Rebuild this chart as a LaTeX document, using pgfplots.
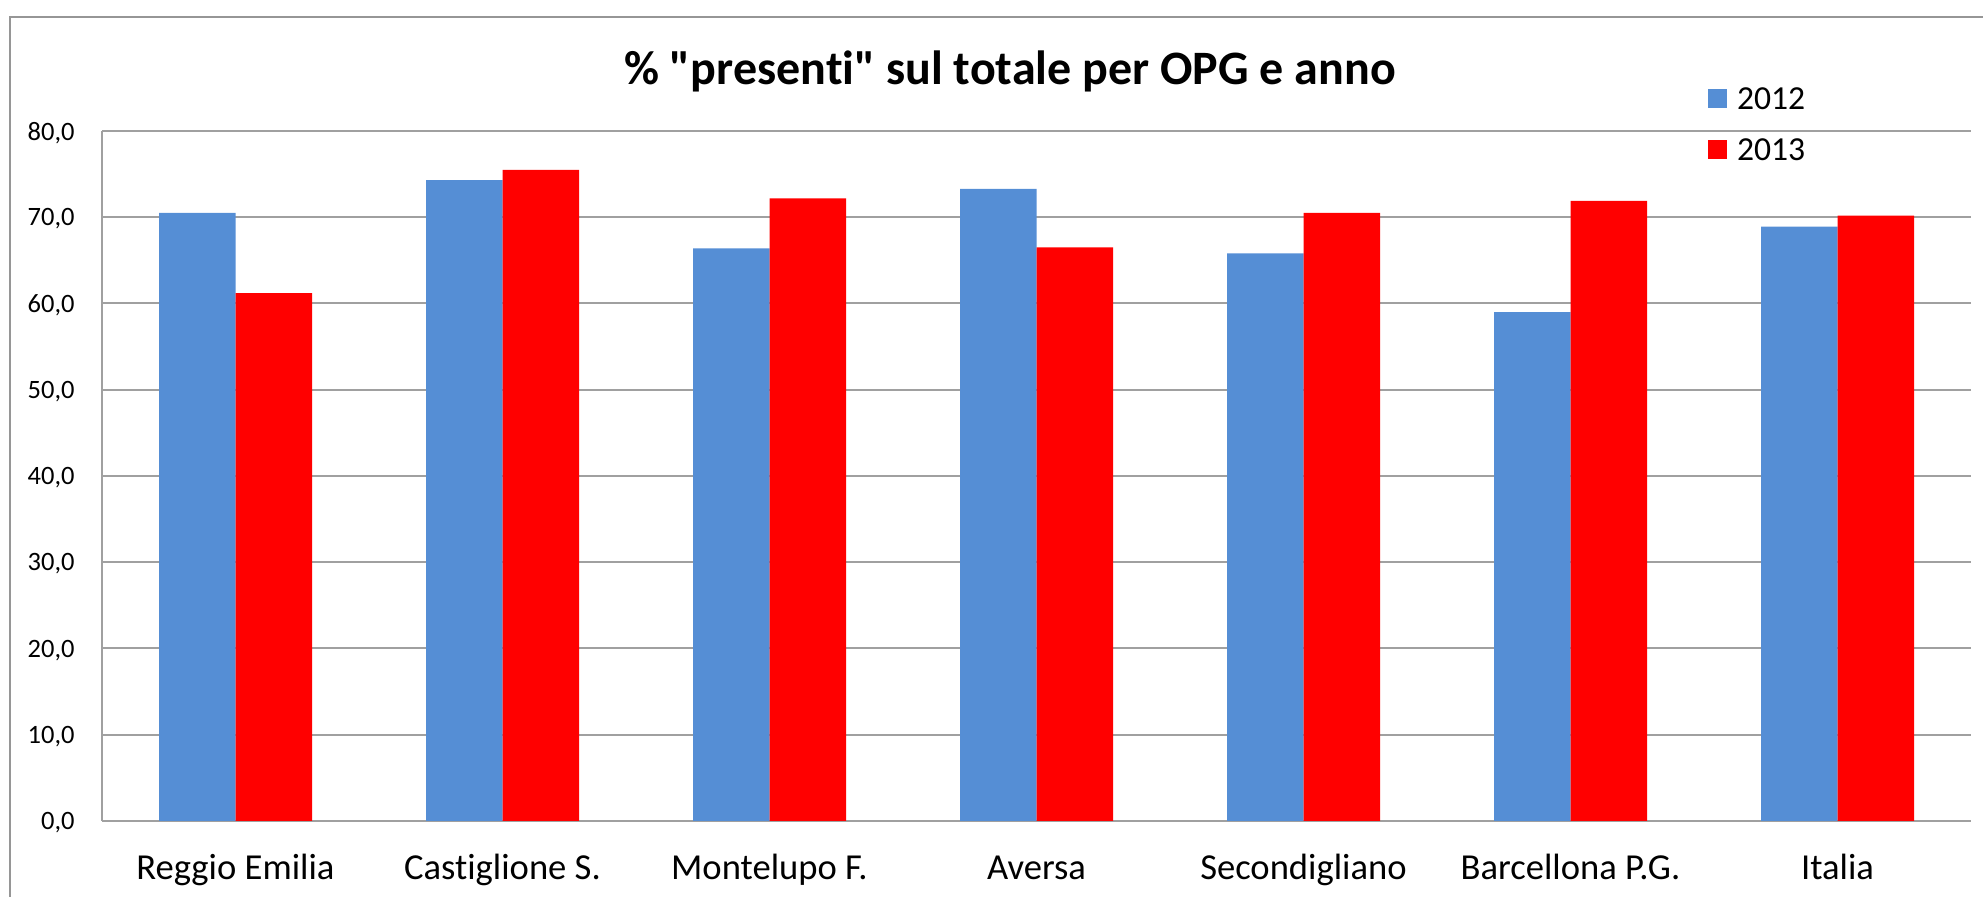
\documentclass[border=0pt]{standalone}
\usepackage{pgfplots}
\pgfplotsset{compat=1.18}
\usepackage{fontspec}
\setmainfont{Carlito}[Ligatures={TeXOff,NoCommon}]
\definecolor{bblue}{RGB}{85,142,213}
\definecolor{bred}{RGB}{255,0,0}
\definecolor{gridgray}{RGB}{160,160,160}
\definecolor{framegray}{RGB}{150,150,150}
\begin{document}
\begin{tikzpicture}
\useasboundingbox (0,0) rectangle (991.5pt,448.5pt);
\draw[framegray, line width=1pt] (5pt,0) -- (5pt,440pt) -- (991.5pt,440pt);
\node[anchor=base, inner sep=0pt, font=\fontsize{24}{28}\selectfont\bfseries] at (505pt,406pt) {\% "presenti" sul totale per OPG e anno};
\begin{axis}[
  at={(51pt,38pt)}, anchor=south west,
  width=934.5pt, height=345pt, scale only axis,
  xmin=-0.5, xmax=6.5, ymin=0, ymax=80,
  ybar=0pt, bar width=38.25pt,
  axis x line*=bottom, axis y line*=left,
  axis line style={gridgray, line width=1pt},
  xtick={0,...,6},
  xticklabels={Reggio Emilia, Castiglione S., Montelupo F., Aversa, Secondigliano, Barcellona P.G., Italia},
  ytick={0,10,...,80},
  major tick length=0pt,
  ymajorgrids, grid style={gridgray, line width=1pt},
  /pgf/number format/assume math mode=true,
  yticklabel style={/pgf/number format/.cd, fixed, fixed zerofill, precision=1, use comma, /tikz/.cd,
    font=\fontsize{13.25}{15}\selectfont, anchor=east, inner sep=0pt, text depth=0pt, xshift=-13.5pt},
  xticklabel style={font=\fontsize{18.3}{21}\selectfont, anchor=base, inner sep=0pt, yshift=-29.5pt},
  legend style={at={(axis description cs:0.8593,1.0622)}, anchor=north west,
    draw=none, fill=none, inner sep=0pt, outer sep=0pt, row sep=14.2pt, column sep=5pt,
    font=\fontsize{16.8}{19}\selectfont, nodes={inner sep=0pt, text depth=0pt}},
  legend cell align=left,
  legend image code/.code={\fill[#1] (0pt,-4.75pt) rectangle (9.5pt,4.75pt);},
]
\addplot[fill=bblue, draw=none] coordinates {(0,70.5) (1,74.3) (2,66.4) (3,73.3) (4,65.8) (5,59.0) (6,68.9)};
\addplot[fill=bred, draw=none] coordinates {(0,61.2) (1,75.5) (2,72.2) (3,66.5) (4,70.5) (5,71.9) (6,70.2)};
\legend{2012,2013}
\end{axis}
\end{tikzpicture}
\end{document}
